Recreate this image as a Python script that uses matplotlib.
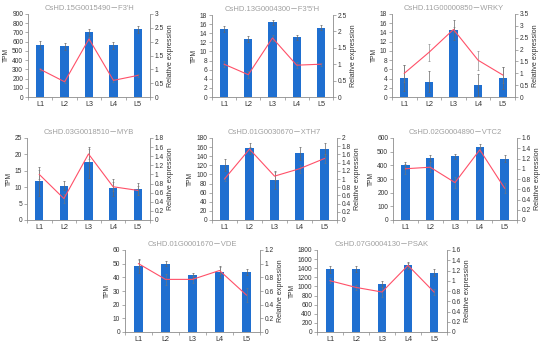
import numpy as np
import matplotlib
matplotlib.use("Agg")
import matplotlib.pyplot as plt
from matplotlib.ticker import MultipleLocator, FuncFormatter

plt.rcParams['font.family'] = ['Liberation Sans', 'DejaVu Sans', 'Noto Sans CJK SC']

stages = ["L1", "L2", "L3", "L4", "L5"]

titles = ["CsHD.15G0015490－F3'H", "CsHD.13G0004300－F3'5'H", "CsHD.11G00000850－WRKY",
          "CsHD.03G0018510－MYB", "CsHD.01G0030670－XTH7", "CsHD.02G0004890－VTC2",
          "CsHD.01G0001670－VDE", "CsHD.07G0004130－PSAK"]

tpm = [[565, 550, 700, 560, 735],
       [14.9, 12.8, 16.4, 13.1, 15.2],
       [4.1, 3.3, 14.5, 2.6, 4.2],
       [11.8, 10.5, 17.6, 9.9, 9.5],
       [121, 157, 88, 146, 156],
       [400, 452, 465, 533, 450],
       [48.5, 50, 41.5, 44, 44],
       [1375, 1385, 1060, 1460, 1300]]
tpm_err = [[40, 40, 35, 40, 40],
           [0.6, 0.7, 0.6, 0.6, 0.6],
           [2.9, 2.3, 2.1, 2.3, 2.4],
           [4.5, 1.5, 4.8, 2.7, 1.8],
           [14, 12, 20, 14, 14],
           [25, 20, 20, 25, 22],
           [5, 2, 2, 4.5, 2],
           [70, 70, 70, 80, 80]]
rel = [[1.0, 0.55, 2.1, 0.6, 0.78],
       [1.0, 0.68, 1.8, 0.97, 1.0],
       [1.0, 1.88, 2.85, 1.55, 0.93],
       [1.0, 0.47, 1.45, 0.73, 0.65],
       [1.0, 1.73, 1.07, 1.25, 1.5],
       [1.0, 1.03, 0.73, 1.37, 0.62],
       [1.0, 0.77, 0.77, 0.9, 0.54],
       [1.0, 0.87, 0.78, 1.3, 0.78]]
rel_err = [[0.05, 0.05, 0.08, 0.05, 0.05],
           [0.1, 0.1, 0.1, 0.1, 0.05],
           [0.35, 0.35, 0.1, 0.4, 0.35],
           [0.1, 0.1, 0.1, 0.1, 0.1],
           [0.05, 0.05, 0.1, 0.1, 0.1],
           [0.1, 0.1, 0.1, 0.05, 0.1],
           [0.05, 0.08, 0.05, 0.05, 0.1],
           [0.05, 0.05, 0.1, 0.05, 0.05]]
left_max = [900, 18, 18, 25, 180, 600, 60, 1800]
left_step = [100, 2, 2, 5, 20, 100, 10, 200]
right_max = [3, 2.5, 3.5, 1.8, 2, 1.6, 1.2, 1.6]
right_step = [0.5, 0.5, 0.5, 0.2, 0.2, 0.2, 0.2, 0.2]

# pixel boxes: left, bottom, right, top
boxes = [(28, 97, 150, 14), (212, 97, 333, 15), (392, 97, 515, 14),
         (27, 220, 150, 138), (212, 220, 337, 138), (393, 220, 517, 138),
         (125, 332, 260, 250), (317, 332, 447, 250)]

W, H = 550, 348
fig = plt.figure(figsize=(W / 100, H / 100), dpi=100)
grey = "#8c8c8c"
blue = "#1f6fd0"
red = "#ff5068"
fs = 4.8


def fmt(v, pos):
    s = ("%.1f" % v).rstrip("0").rstrip(".")
    return s


for i in range(8):
    l, b, r, t = boxes[i]
    ax = fig.add_axes([l / W, 1 - b / H, (r - l) / W, (b - t) / H])
    x = np.arange(5)
    ax.bar(x, tpm[i], width=0.34, color=blue, zorder=2)
    ax.errorbar(x, tpm[i], yerr=tpm_err[i], fmt="none", ecolor="#666666",
                elinewidth=0.5, capsize=1, capthick=0.5, zorder=3)
    ax.set_xlim(-0.5, 4.5)
    ax.set_ylim(0, left_max[i])
    ax.yaxis.set_major_locator(MultipleLocator(left_step[i]))
    ax.yaxis.set_major_formatter(FuncFormatter(fmt))
    ax.set_xticks(x)
    ax.set_xticklabels(stages)
    ax.set_xticks(np.arange(-0.5, 5, 1), minor=True)
    ax.tick_params(axis="x", which="major", length=0, labelsize=fs + 0.4, colors="#333333", pad=3)
    ax.tick_params(axis="x", which="minor", length=2, width=0.5, color=grey)
    ax.tick_params(axis="y", length=2, width=0.5, color=grey, labelsize=fs, labelcolor="#333333", pad=1.5)
    for s in ["top", "right"]:
        ax.spines[s].set_visible(False)
    for s in ["left", "bottom"]:
        ax.spines[s].set_color(grey)
        ax.spines[s].set_linewidth(0.6)
    ax.set_ylabel("TPM", fontsize=fs, color="#333333", labelpad=1.5)
    ax.set_title(titles[i], fontsize=5.5, color="#a0a0a0", pad=3)

    ax2 = ax.twinx()
    ax2.errorbar(x, rel[i], yerr=rel_err[i], color=red, lw=0.8, ecolor="#777777",
                 elinewidth=0.4, capsize=0.8, capthick=0.4, zorder=4)
    ax2.set_ylim(0, right_max[i])
    ax2.yaxis.set_major_locator(MultipleLocator(right_step[i]))
    ax2.yaxis.set_major_formatter(FuncFormatter(fmt))
    ax2.tick_params(axis="y", length=2, width=0.5, color=grey, labelsize=fs, labelcolor="#333333", pad=1.5)
    for s in ["top", "left", "bottom"]:
        ax2.spines[s].set_visible(False)
    ax2.spines["right"].set_color(grey)
    ax2.spines["right"].set_linewidth(0.6)
    ax2.set_ylabel("Relative expression", fontsize=fs + 0.3, color="#333333", labelpad=2)

fig.savefig("out.png", dpi=100)
